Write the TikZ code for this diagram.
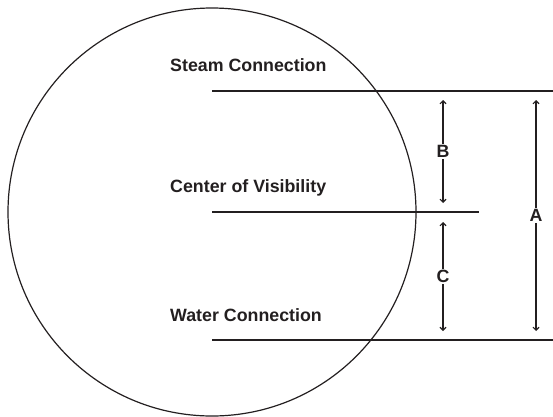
\documentclass[tikz,border=0pt]{standalone}
\usepackage{fontspec}
\setmainfont{Liberation Sans}
\usetikzlibrary{arrows.meta}
\definecolor{ink}{HTML}{231F20}
\begin{document}
\begin{tikzpicture}[x=1pt,y=-1pt,
  level/.style={draw=ink,line width=2pt},
  rim/.style={draw=ink,line width=1.2pt},
  dim/.style={draw=ink,line width=1.1pt,{Straight Barb[length=3pt,width=6pt]}-{Straight Barb[length=3pt,width=6pt]}},
  caption/.style={anchor=base west,inner sep=0pt,text=ink,font=\fontsize{17.8}{20}\selectfont\bfseries},
  dimlbl/.style={fill=white,inner sep=1.5pt,text=ink,font=\fontsize{17.8}{20}\selectfont\bfseries}]
\useasboundingbox (0,0) rectangle (553,416);
\draw[rim] (212,212) circle [radius=204];
% level lines
\coordinate (s1) at (212,91); \coordinate (s2) at (553,91);
\coordinate (c1) at (212,212);  \coordinate (c2) at (479,212);
\coordinate (w1) at (212,340);  \coordinate (w2) at (553,340);
\draw[level] (s1) -- (s2);
\draw[level] (c1) -- (c2);
\draw[level] (w1) -- (w2);
% captions
\node[caption] (steam) at (170,71) {Steam Connection};
\node[caption] (cov) at (170,192.5) {Center of Visibility};
\node[caption] (water) at (170,321) {Water Connection};
% dimensions
\coordinate (b1) at (443,100); \coordinate (b2) at (443,203);
\coordinate (cc1) at (443,222); \coordinate (cc2) at (443,331);
\coordinate (a1) at (536,100); \coordinate (a2) at (536,331);
\draw[dim] (b1) -- node[dimlbl] (lb) {B} (b2);
\draw[dim] (cc1) -- node[dimlbl] (lc) {C} (cc2);
\draw[dim] (a1) -- node[dimlbl] (la) {A} (a2);
\end{tikzpicture}
\end{document}
